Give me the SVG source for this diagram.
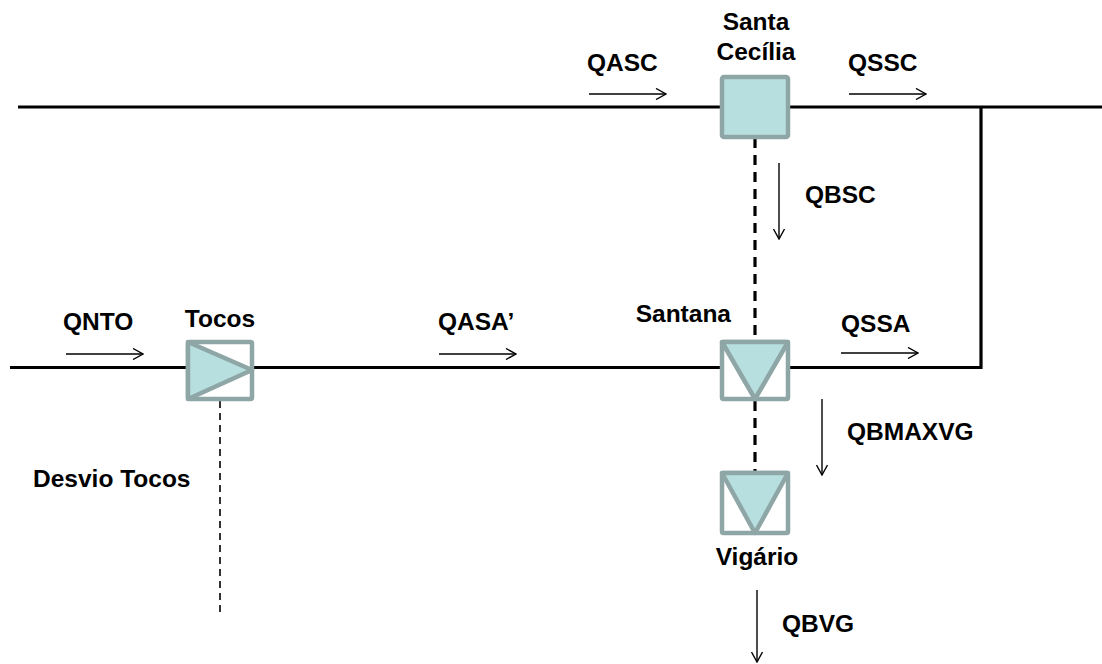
<svg xmlns="http://www.w3.org/2000/svg" width="1102" height="664" viewBox="0 0 1102 664">
<style>
.t{font-family:"Liberation Sans",Arial,sans-serif;font-weight:bold;font-size:24.5px;fill:#000}
.pipe{stroke:#000;stroke-width:3.2;fill:none}
.box{fill:#fff;stroke:#8fa6a6;stroke-width:4.5}
.tri{fill:#b8dfe0;stroke:#8fa6a6;stroke-width:4.5;stroke-linejoin:round}
.arr{stroke:#000;stroke-width:1.4;fill:none;marker-end:url(#ah)}
.dash{stroke:#000;stroke-width:3.2;stroke-dasharray:10 7;fill:none}
.dthin{stroke:#000;stroke-width:1.6;stroke-dasharray:7 5;fill:none}
</style>
<defs>
<marker id="ah" viewBox="0 0 12 12" refX="11" refY="6" markerWidth="12" markerHeight="12" markerUnits="userSpaceOnUse" orient="auto">
<path d="M1,0.5 L11,6 L1,11.5" fill="none" stroke="#000" stroke-width="1.4"/>
</marker>
</defs>
<rect width="1102" height="664" fill="#fff"/>
<g id="connectors">
<path class="pipe" d="M18,107 H1102"/>
<path class="pipe" d="M10,367.5 H981 V107"/>
<path class="dash" d="M755,138 V340"/>
<path class="dash" d="M755,401 V472"/>
<path class="dthin" d="M220,401 V614"/>
<path class="arr" d="M589,94 H666"/>
<path class="arr" d="M849,94 H926"/>
<path class="arr" d="M779,163 V239"/>
<path class="arr" d="M66,354 H143"/>
<path class="arr" d="M439,354 H516"/>
<path class="arr" d="M841,353 H918"/>
<path class="arr" d="M822,399 V475"/>
<path class="arr" d="M757,590 V662"/>
</g>
<g id="santa-cecilia">
<rect x="722" y="77" width="66" height="60" rx="2" fill="#b8dfe0" stroke="#8fa6a6" stroke-width="4.5"/>
<text class="t" x="756" y="30" text-anchor="middle">Santa</text>
<text class="t" x="756" y="60" text-anchor="middle">Cecília</text>
</g>
<g id="tocos">
<rect class="box" x="188" y="342" width="64" height="57" rx="1.5"/>
<path class="tri" d="M188,342 L252,370 L188,399 Z"/>
<text class="t" x="220" y="327" text-anchor="middle">Tocos</text>
</g>
<g id="santana">
<rect class="box" x="722" y="342" width="66" height="57" rx="1.5"/>
<path class="tri" d="M722,342 L788,342 L755,399 Z"/>
<text class="t" x="731" y="322" text-anchor="end">Santana</text>
</g>
<g id="vigario">
<rect class="box" x="722" y="473" width="66" height="60" rx="1.5"/>
<path class="tri" d="M722,473 L788,473 L755,533 Z"/>
<text class="t" x="757" y="565" text-anchor="middle">Vigário</text>
</g>
<g id="labels">
<text class="t" x="587" y="71">QASC</text>
<text class="t" x="848" y="71">QSSC</text>
<text class="t" x="805" y="203">QBSC</text>
<text class="t" x="63" y="330">QNTO</text>
<text class="t" x="438" y="330">QASA’</text>
<text class="t" x="841" y="332">QSSA</text>
<text class="t" x="847" y="440">QBMAXVG</text>
<text class="t" x="782" y="632">QBVG</text>
<text class="t" x="33" y="487">Desvio Tocos</text>
</g>
</svg>
